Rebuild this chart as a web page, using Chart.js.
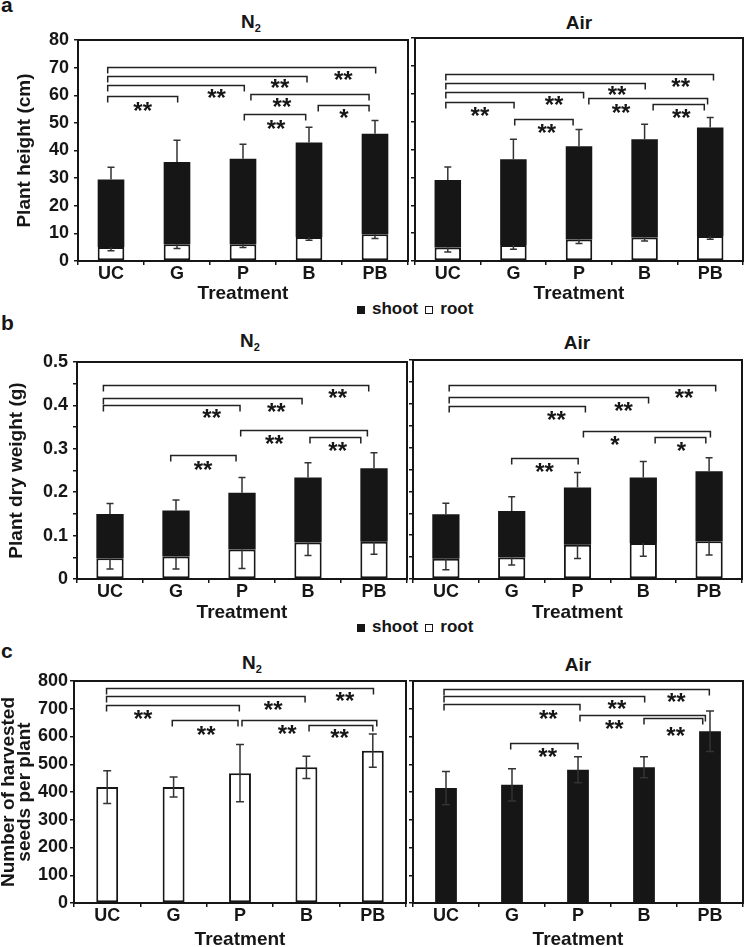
<!DOCTYPE html>
<html>
<head>
<meta charset="utf-8">
<script src="https://cdn.jsdelivr.net/npm/chart.js@4.4.1/dist/chart.umd.min.js"></script>
<style>
body{margin:0;background:#fff;width:746px;height:947px;overflow:hidden;position:relative;font-family:"Liberation Sans",Arial,sans-serif;font-weight:bold;color:#161616}
canvas{position:absolute}
.t{position:absolute;line-height:1;white-space:nowrap}
.pan{font-size:21px}
.tit{font-size:19px;transform:translateX(-50%)}
.tit sub{font-size:11px;vertical-align:baseline;position:relative;top:4px}
.leg{font-size:17px;left:357px}
.q{display:inline-block;width:8px;height:8px;box-sizing:border-box;vertical-align:baseline}
.q.s{background:#161616;margin-right:7px}
.q.r{border:1.5px solid #161616;margin:0 7px 0 7px}
</style>
</head>
<body>
<div class="t pan" style="left:1px;top:-6px">a</div>
<div class="t pan" style="left:1px;top:312px">b</div>
<div class="t pan" style="left:1px;top:640px">c</div>

<div class="t tit" style="left:251px;top:12px">N<sub>2</sub></div>
<div class="t tit" style="left:579px;top:13px">Air</div>
<div class="t tit" style="left:250px;top:331px">N<sub>2</sub></div>
<div class="t tit" style="left:577px;top:333px">Air</div>
<div class="t tit" style="left:252px;top:653px">N<sub>2</sub></div>
<div class="t tit" style="left:578px;top:655px">Air</div>

<div class="t leg" style="top:300px"><span class="q s"></span>shoot<span class="q r"></span>root</div>
<div class="t leg" style="top:618px"><span class="q s"></span>shoot<span class="q r"></span>root</div>

<canvas id="aN2"></canvas>
<canvas id="aAir"></canvas>
<canvas id="bN2"></canvas>
<canvas id="bAir"></canvas>
<canvas id="cN2"></canvas>
<canvas id="cAir"></canvas>

<script>
const trattamenti = ['UC', 'G', 'P', 'B', 'PB'];

// a) plant height (cm) - root in basso, shoot sopra
const aN2Root = [5.1, 6.1, 6.1, 8.7, 9.7];
const aN2Shoot = [24.4, 29.7, 30.9, 34.2, 36.4];
const aN2RootErr = [1.4, 1.6, 1.2, 1.2, 1.6];
const aN2ShootErr = [4.4, 7.9, 5.3, 5.5, 4.8];
const aAirRoot = [4.8, 5.7, 7.7, 8.4, 9.0];
const aAirShoot = [24.3, 30.8, 33.5, 35.3, 38.9];
const aAirRootErr = [1.6, 1.5, 1.4, 1.2, 1.2];
const aAirShootErr = [4.6, 7.2, 6.0, 5.4, 3.6];
const aTicks = [0, 10, 20, 30, 40, 50, 60, 70, 80];
const aTickLabels = ['0', '10', '20', '30', '40', '50', '60', '70', '80'];

// b) plant dry weight (g)
const bN2Root = [0.048, 0.052, 0.068, 0.084, 0.086];
const bN2Shoot = [0.102, 0.106, 0.131, 0.150, 0.169];
const bN2RootErr = [0.025, 0.029, 0.044, 0.030, 0.029];
const bN2ShootErr = [0.024, 0.024, 0.035, 0.034, 0.036];
const bAirRoot = [0.046, 0.049, 0.078, 0.082, 0.086];
const bAirShoot = [0.102, 0.106, 0.131, 0.150, 0.160];
const bAirRootErr = [0.025, 0.017, 0.031, 0.030, 0.031];
const bAirShootErr = [0.025, 0.033, 0.034, 0.036, 0.031];
const bTicks = [0, 0.05, 0.1, 0.15, 0.2, 0.25, 0.3, 0.35, 0.4, 0.45, 0.5];
const bTickLabels = ['0', '', '0.1', '', '0.2', '', '0.3', '', '0.4', '', '0.5'];

// c) harvested seeds per plant
const cN2Seeds = [418, 418, 468, 489, 549];
const cN2Err = [59, 36, 103, 40, 60];
const cAirSeeds = [414, 426, 480, 489, 619];
const cAirErr = [60, 58, 47, 38, 73];
const cTicks = [0, 100, 200, 300, 400, 500, 600, 700, 800];
const cTickLabels = ['0', '100', '200', '300', '400', '500', '600', '700', '800'];

// parentesi di significativita: [da, a, livello, testo, xTesto, yTesto]
const aN2Sig = [
	[-0.05, 4.01, 70.4, '**', 3.52, 67.7],
	[-0.05, 2.97, 67.1, '**', 2.56, 64.7],
	[-0.05, 2.02, 63.8, '**', 1.60, 61.2],
	[-0.05, 1.01, 59.6, '**', 0.48, 56.6],
	[2.12, 3.91, 60.5, '**', 2.59, 57.8],
	[2.02, 2.95, 53.1, '**', 2.50, 50.1],
	[3.14, 3.91, 56.3, '*', 3.53, 53.9]
];
const aAirSig = [
	[-0.03, 4.05, 67.1, '**', 3.55, 64.4],
	[-0.03, 3.01, 64.0, '**', 2.58, 61.6],
	[-0.03, 2.07, 60.8, '**', 1.62, 58.0],
	[-0.03, 1.01, 57.2, '**', 0.49, 54.2],
	[2.15, 3.96, 58.6, '**', 2.64, 55.4],
	[1.02, 1.91, 50.8, '**', 1.51, 47.9],
	[3.13, 3.91, 56.3, '**', 3.56, 53.6]
];
const bN2Sig = [
	[-0.1, 3.92, 0.448, '**', 3.45, 0.432],
	[-0.1, 2.91, 0.418, '**', 2.52, 0.399],
	[-0.1, 1.97, 0.400, '**', 1.54, 0.384],
	[1.98, 3.90, 0.344, '**', 2.49, 0.325],
	[3.03, 3.80, 0.327, '**', 3.45, 0.308],
	[0.92, 1.91, 0.285, '**', 1.41, 0.266]
];
const bAirSig = [
	[0.05, 4.10, 0.442, '**', 3.62, 0.426],
	[0.05, 3.08, 0.416, '**', 2.70, 0.397],
	[0.05, 2.12, 0.395, '**', 1.68, 0.377],
	[2.09, 4.02, 0.338, '*', 2.57, 0.319],
	[3.18, 3.95, 0.325, '*', 3.58, 0.306],
	[1.00, 2.01, 0.277, '**', 1.50, 0.258]
];
const cN2Sig = [
	[-0.01, 4.01, 776, '**', 3.58, 748],
	[-0.01, 2.98, 746, '**', 2.50, 718],
	[-0.01, 1.99, 712, '**', 0.54, 685],
	[2.03, 4.06, 661, '**', 2.71, 632],
	[3.04, 4.00, 643, '**', 3.50, 616],
	[0.98, 1.97, 658, '**', 1.49, 628]
];
const cAirSig = [
	[-0.03, 3.99, 772, '**', 3.49, 745],
	[-0.03, 3.01, 746, '**', 2.59, 722],
	[-0.03, 2.03, 716, '**', 1.55, 686],
	[2.03, 3.93, 677, '**', 2.55, 650],
	[3.00, 3.89, 665, '**', 3.48, 624],
	[0.98, 2.00, 576, '**', 1.54, 549]
];

const NERO = '#161616';
const FONT = '"Liberation Sans", Arial, sans-serif';

// cornice attorno all'area del grafico
const cornice = {
	id: 'cornice',
	afterDraw(chart){
		const {ctx, chartArea: a} = chart;
		ctx.save();
		ctx.strokeStyle = NERO;
		ctx.lineWidth = 2;
		ctx.strokeRect(a.left, a.top, a.right - a.left, a.bottom - a.top);
		ctx.restore();
	}
};

// barre di errore (su, giu o entrambe)
const errori = {
	id: 'errori',
	afterDatasetsDraw(chart){
		const {ctx} = chart;
		const y = chart.scales.y;
		ctx.save();
		ctx.strokeStyle = '#333';
		ctx.lineWidth = 1.5;
		chart.data.datasets.forEach((ds, k) => {
			if(!ds.errori) return;
			const cap = ds.cap || 3.5;
			chart.getDatasetMeta(k).data.forEach((bar, i) => {
				const top = y.getValueForPixel(bar.y);
				const e = ds.errori[i];
				const y1 = ds.verso === 'down' ? bar.y : y.getPixelForValue(top + e);
				const y2 = ds.verso === 'up' ? bar.y : y.getPixelForValue(top - e);
				ctx.beginPath();
				ctx.moveTo(bar.x, y1);
				ctx.lineTo(bar.x, y2);
				if(ds.verso !== 'down'){ ctx.moveTo(bar.x - cap, y1); ctx.lineTo(bar.x + cap, y1); }
				if(ds.verso !== 'up'){ ctx.moveTo(bar.x - cap, y2); ctx.lineTo(bar.x + cap, y2); }
				ctx.stroke();
			});
		});
		ctx.restore();
	}
};

// parentesi con asterischi
const parentesi = {
	id: 'parentesi',
	afterDatasetsDraw(chart, args, opts){
		const {ctx} = chart;
		const x = chart.scales.x, y = chart.scales.y;
		ctx.save();
		ctx.strokeStyle = '#222';
		ctx.lineWidth = 1.5;
		ctx.fillStyle = NERO;
		ctx.font = 'bold 24px ' + FONT;
		ctx.textAlign = 'center';
		ctx.textBaseline = 'alphabetic';
		(opts.sig || []).forEach(s => {
			const x1 = x.getPixelForValue(s[0]);
			const x2 = x.getPixelForValue(s[1]);
			const py = Math.round(y.getPixelForValue(s[2])) + 0.5;
			ctx.beginPath();
			ctx.moveTo(x1, py + 6);
			ctx.lineTo(x1, py);
			ctx.lineTo(x2, py);
			ctx.lineTo(x2, py + 6);
			ctx.stroke();
			ctx.fillText(s[3], x.getPixelForValue(s[4]), y.getPixelForValue(s[5]) + 14);
		});
		ctx.restore();
	}
};

function creaGrafico(id, box, plot, asse, datasets, sig, barW){
	const canvas = document.getElementById(id);
	canvas.style.left = box.x + 'px';
	canvas.style.top = box.y + 'px';
	canvas.width = box.w;
	canvas.height = box.h;

	const griglia = {display: true, drawOnChartArea: false, drawTicks: true, tickLength: 4, color: NERO, lineWidth: 1.5};

	return new Chart(canvas, {
		type: 'bar',
		data: {labels: trattamenti, datasets: datasets},
		options: {
			responsive: false,
			animation: false,
			devicePixelRatio: 1,
			layout: {padding: {left: 0, bottom: 0, top: plot.t - box.y, right: box.x + box.w - plot.r}},
			datasets: {bar: {barPercentage: barW, categoryPercentage: 1}},
			plugins: {
				legend: {display: false},
				tooltip: {enabled: false},
				parentesi: {sig: sig}
			},
			scales: {
				x: {
					stacked: true,
					offset: true,
					grid: Object.assign({offset: true}, griglia),
					border: {display: false},
					ticks: {color: NERO, padding: 0, font: {family: FONT, size: 18, weight: 'bold', lineHeight: 1}},
					title: {display: true, text: 'Treatment', color: NERO, padding: 0, font: {family: FONT, size: 19, weight: 'bold', lineHeight: 1}},
					afterFit: s => { s.height = box.y + box.h - plot.b; }
				},
				y: {
					stacked: true,
					min: 0,
					max: asse.ticks[asse.ticks.length - 1],
					afterBuildTicks: s => { s.ticks = asse.ticks.map(v => ({value: v})); },
					grid: griglia,
					border: {display: false},
					ticks: {
						color: NERO,
						padding: asse.pad,
						font: {family: FONT, size: 18, weight: 'bold', lineHeight: 1},
						callback: (v, i) => asse.labels ? asse.labels[i] : ''
					},
					title: asse.title ? {
						display: true,
						text: asse.title,
						color: NERO,
						padding: {top: asse.titlePad, bottom: 0},
						font: {family: FONT, size: 19, weight: 'bold', lineHeight: asse.lh || 1}
					} : {display: false},
					afterFit: s => { s.width = plot.l - box.x; }
				}
			}
		},
		plugins: [cornice, errori, parentesi]
	});
}

function radiceFusto(root, rootErr, shoot, shootErr){
	return [
		{label: 'root', data: root, backgroundColor: '#fff', borderColor: NERO, borderWidth: 2, borderSkipped: false, errori: rootErr, verso: 'down'},
		{label: 'shoot', data: shoot, backgroundColor: NERO, borderColor: NERO, borderWidth: 0, errori: shootErr, verso: 'up'}
	];
}

function start(){
	creaGrafico('aN2', {x: 0, y: 26, w: 410, h: 277}, {l: 78, t: 38, r: 408, b: 261},
		{ticks: aTicks, labels: aTickLabels, pad: 5, title: 'Plant height (cm)', titlePad: 15},
		radiceFusto(aN2Root, aN2RootErr, aN2Shoot, aN2ShootErr), aN2Sig, 0.404);
	creaGrafico('aAir', {x: 409, y: 26, w: 337, h: 277}, {l: 415, t: 38, r: 743, b: 261},
		{ticks: aTicks, pad: 0},
		radiceFusto(aAirRoot, aAirRootErr, aAirShoot, aAirShootErr), aAirSig, 0.404);

	creaGrafico('bN2', {x: 0, y: 348, w: 410, h: 274}, {l: 77, t: 360, r: 407, b: 579},
		{ticks: bTicks, labels: bTickLabels, pad: 5, title: 'Plant dry weight (g)', titlePad: 7},
		radiceFusto(bN2Root, bN2RootErr, bN2Shoot, bN2ShootErr), bN2Sig, 0.414);
	creaGrafico('bAir', {x: 408, y: 348, w: 338, h: 274}, {l: 413, t: 360, r: 742, b: 579},
		{ticks: bTicks, pad: 0},
		radiceFusto(bAirRoot, bAirRootErr, bAirShoot, bAirShootErr), bAirSig, 0.414);

	creaGrafico('cN2', {x: 0, y: 669, w: 410, h: 280}, {l: 74, t: 681, r: 406, b: 903},
		{ticks: cTicks, labels: cTickLabels, pad: 2, title: ['Number of harvested', 'seeds per plant'], titlePad: 1, lh: 0.85},
		[{label: 'seeds', data: cN2Seeds, backgroundColor: '#fff', borderColor: NERO, borderWidth: 2, borderSkipped: false, errori: cN2Err, verso: 'both', cap: 4}],
		cN2Sig, 0.33);
	creaGrafico('cAir', {x: 408, y: 669, w: 338, h: 280}, {l: 413, t: 681, r: 743, b: 903},
		{ticks: cTicks, pad: 0},
		[{label: 'seeds', data: cAirSeeds, backgroundColor: NERO, borderColor: NERO, borderWidth: 0, errori: cAirErr, verso: 'both', cap: 4}],
		cAirSig, 0.33);
}

if(document.readyState === 'loading') document.addEventListener('DOMContentLoaded', start);
else start();
</script>
</body>
</html>
